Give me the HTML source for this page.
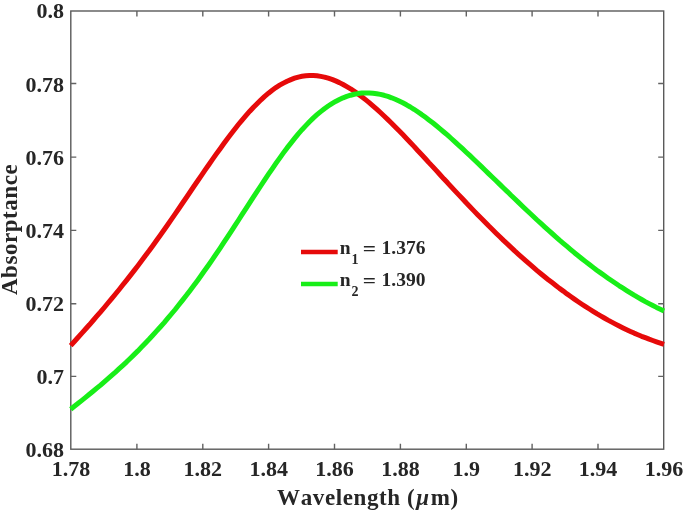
<!DOCTYPE html>
<html><head><meta charset="utf-8"><title>Absorptance vs Wavelength</title>
<style>
html,body{margin:0;padding:0;background:#fff}
svg{display:block}
text{font-family:"Liberation Serif","DejaVu Serif",serif;font-weight:bold;fill:#262626}
.t{font-size:22px}
.l{font-size:23px}
.g{font-size:19.5px}
.s{font-size:14px}
.e{font-family:"Liberation Sans",sans-serif;font-size:20px}
</style></head><body>
<svg width="685" height="511" viewBox="0 0 685 511">
<rect width="685" height="511" fill="#fff"/>
<rect x="70.8" y="11.0" width="592.9000000000001" height="438.2" fill="none" stroke="#5a5a5a" stroke-width="1.4"/>
<path d="M136.9,449.2v-5.5M136.9,11.0v5.5M202.8,449.2v-5.5M202.8,11.0v5.5M268.6,449.2v-5.5M268.6,11.0v5.5M334.5,449.2v-5.5M334.5,11.0v5.5M400.4,449.2v-5.5M400.4,11.0v5.5M466.3,449.2v-5.5M466.3,11.0v5.5M532.1,449.2v-5.5M532.1,11.0v5.5M598.0,449.2v-5.5M598.0,11.0v5.5M70.8,376.4h5.5M663.7,376.4h-5.5M70.8,303.7h5.5M663.7,303.7h-5.5M70.8,230.4h5.5M663.7,230.4h-5.5M70.8,157.1h5.5M663.7,157.1h-5.5M70.8,83.5h5.5M663.7,83.5h-5.5" fill="none" stroke="#626262" stroke-width="1.4"/>
<g fill="none" stroke-width="5.0" stroke-linejoin="round">
<path stroke="#e60a0a" d="M70.7,345.6 L74.4,341.5 L78.2,337.3 L81.9,333.2 L85.6,329.0 L89.4,324.8 L93.1,320.5 L96.8,316.2 L100.6,311.9 L104.3,307.5 L108.0,303.0 L111.7,298.6 L115.5,294.0 L119.2,289.5 L122.9,284.8 L126.7,280.1 L130.4,275.4 L134.1,270.6 L137.9,265.7 L141.6,260.8 L145.3,255.8 L149.1,250.8 L152.8,245.7 L156.5,240.5 L160.3,235.3 L164.0,230.0 L167.7,224.7 L171.4,219.3 L175.2,213.9 L178.9,208.5 L182.6,203.0 L186.4,197.5 L190.1,192.0 L193.8,186.5 L197.6,181.0 L201.3,175.6 L205.0,170.1 L208.8,164.7 L212.5,159.4 L216.2,154.1 L220.0,148.9 L223.7,143.7 L227.4,138.7 L231.2,133.8 L234.9,129.0 L238.6,124.3 L242.3,119.8 L246.1,115.4 L249.8,111.2 L253.5,107.2 L257.3,103.4 L261.0,99.8 L264.7,96.4 L268.5,93.2 L272.2,90.3 L275.9,87.6 L279.7,85.2 L283.4,83.1 L287.1,81.2 L290.9,79.6 L294.6,78.2 L298.3,77.1 L302.0,76.3 L305.8,75.8 L309.5,75.6 L313.2,75.6 L317.0,75.8 L320.7,76.4 L324.4,77.1 L328.2,78.2 L331.9,79.4 L335.6,80.9 L339.4,82.6 L343.1,84.5 L346.8,86.6 L350.6,88.8 L354.3,91.3 L358.0,93.9 L361.8,96.7 L365.5,99.6 L369.2,102.6 L372.9,105.8 L376.7,109.1 L380.4,112.5 L384.1,116.0 L387.9,119.6 L391.6,123.2 L395.3,127.0 L399.1,130.8 L402.8,134.6 L406.5,138.5 L410.3,142.5 L414.0,146.4 L417.7,150.5 L421.5,154.5 L425.2,158.5 L428.9,162.6 L432.7,166.6 L436.4,170.7 L440.1,174.7 L443.8,178.8 L447.6,182.8 L451.3,186.9 L455.0,190.9 L458.8,194.9 L462.5,198.8 L466.2,202.8 L470.0,206.7 L473.7,210.6 L477.4,214.4 L481.2,218.2 L484.9,222.0 L488.6,225.8 L492.4,229.5 L496.1,233.2 L499.8,236.8 L503.5,240.4 L507.3,243.9 L511.0,247.4 L514.7,250.9 L518.5,254.3 L522.2,257.6 L525.9,260.9 L529.7,264.2 L533.4,267.4 L537.1,270.6 L540.9,273.7 L544.6,276.7 L548.3,279.7 L552.1,282.6 L555.8,285.5 L559.5,288.4 L563.3,291.1 L567.0,293.9 L570.7,296.5 L574.4,299.1 L578.2,301.7 L581.9,304.2 L585.6,306.6 L589.4,309.0 L593.1,311.3 L596.8,313.6 L600.6,315.8 L604.3,318.0 L608.0,320.1 L611.8,322.1 L615.5,324.1 L619.2,326.0 L623.0,327.9 L626.7,329.7 L630.4,331.4 L634.1,333.1 L637.9,334.7 L641.6,336.3 L645.3,337.7 L649.1,339.2 L652.8,340.5 L656.5,341.8 L660.3,343.1 L664.0,344.3"/>
<path stroke="#18ee18" d="M70.7,409.2 L74.4,406.3 L78.2,403.3 L81.9,400.4 L85.6,397.4 L89.4,394.3 L93.1,391.3 L96.8,388.2 L100.6,385.1 L104.3,381.9 L108.0,378.7 L111.7,375.4 L115.5,372.1 L119.2,368.7 L122.9,365.3 L126.7,361.8 L130.4,358.2 L134.1,354.6 L137.9,350.9 L141.6,347.1 L145.3,343.2 L149.1,339.3 L152.8,335.3 L156.5,331.2 L160.3,327.0 L164.0,322.8 L167.7,318.4 L171.4,314.0 L175.2,309.5 L178.9,304.8 L182.6,300.1 L186.4,295.3 L190.1,290.4 L193.8,285.5 L197.6,280.4 L201.3,275.2 L205.0,270.0 L208.8,264.7 L212.5,259.3 L216.2,253.8 L220.0,248.3 L223.7,242.7 L227.4,237.1 L231.2,231.4 L234.9,225.7 L238.6,220.0 L242.3,214.2 L246.1,208.4 L249.8,202.7 L253.5,196.9 L257.3,191.2 L261.0,185.5 L264.7,179.8 L268.5,174.2 L272.2,168.8 L275.9,163.4 L279.7,158.1 L283.4,152.9 L287.1,147.9 L290.9,143.1 L294.6,138.4 L298.3,133.9 L302.0,129.7 L305.8,125.6 L309.5,121.7 L313.2,118.1 L317.0,114.7 L320.7,111.6 L324.4,108.7 L328.2,106.0 L331.9,103.6 L335.6,101.4 L339.4,99.5 L343.1,97.8 L346.8,96.4 L350.6,95.2 L354.3,94.3 L358.0,93.6 L361.8,93.1 L365.5,92.9 L369.2,93.0 L372.9,93.2 L376.7,93.7 L380.4,94.4 L384.1,95.3 L387.9,96.4 L391.6,97.8 L395.3,99.3 L399.1,101.0 L402.8,102.8 L406.5,104.8 L410.3,107.0 L414.0,109.3 L417.7,111.8 L421.5,114.4 L425.2,117.1 L428.9,119.9 L432.7,122.8 L436.4,125.8 L440.1,128.9 L443.8,132.0 L447.6,135.2 L451.3,138.5 L455.0,141.9 L458.8,145.3 L462.5,148.7 L466.2,152.2 L470.0,155.7 L473.7,159.2 L477.4,162.8 L481.2,166.4 L484.9,170.0 L488.6,173.6 L492.4,177.2 L496.1,180.8 L499.8,184.4 L503.5,188.0 L507.3,191.6 L511.0,195.3 L514.7,198.8 L518.5,202.4 L522.2,206.0 L525.9,209.5 L529.7,213.0 L533.4,216.5 L537.1,220.0 L540.9,223.4 L544.6,226.8 L548.3,230.2 L552.1,233.5 L555.8,236.8 L559.5,240.1 L563.3,243.3 L567.0,246.4 L570.7,249.6 L574.4,252.7 L578.2,255.7 L581.9,258.7 L585.6,261.6 L589.4,264.5 L593.1,267.4 L596.8,270.2 L600.6,272.9 L604.3,275.6 L608.0,278.2 L611.8,280.8 L615.5,283.3 L619.2,285.8 L623.0,288.2 L626.7,290.6 L630.4,292.9 L634.1,295.2 L637.9,297.4 L641.6,299.5 L645.3,301.6 L649.1,303.6 L652.8,305.5 L656.5,307.4 L660.3,309.2 L664.0,311.0"/>
</g>
<g class="t" text-anchor="middle">
<text x="71.0" y="476">1.78</text>
<text x="136.9" y="476">1.8</text>
<text x="202.8" y="476">1.82</text>
<text x="268.7" y="476">1.84</text>
<text x="334.6" y="476">1.86</text>
<text x="400.4" y="476">1.88</text>
<text x="466.3" y="476">1.9</text>
<text x="532.2" y="476">1.92</text>
<text x="598.1" y="476">1.94</text>
<text x="664.0" y="476">1.96</text>
</g>
<g class="t" text-anchor="end">
<text x="64" y="457.4">0.68</text>
<text x="64" y="384.4">0.7</text>
<text x="64" y="311.4">0.72</text>
<text x="64" y="238.4">0.74</text>
<text x="64" y="165.4">0.76</text>
<text x="64" y="92.4">0.78</text>
<text x="64" y="18.4">0.8</text>
</g>
<text class="l" text-anchor="middle" x="367.9" y="504.5" style="letter-spacing:0.6px;font-kerning:none">Wavelength (<tspan font-style="italic" dx="1">μ</tspan><tspan dx="1">m)</tspan></text>
<text class="l" text-anchor="middle" transform="translate(16.7,229.4) rotate(-90)" style="letter-spacing:0.55px;font-kerning:none">Absorptance</text>
<g fill="none" stroke-width="4.5">
<path stroke="#e60a0a" d="M301,252H337.7"/>
<path stroke="#18ee18" d="M301,283.9H337.7"/>
</g>
<text class="g" y="254.4"><tspan x="339.8">n</tspan><tspan class="s" x="351.5" dy="9.4">1</tspan><tspan x="381.6" dy="-9.4">1.376</tspan></text>
<text class="e" transform="translate(363.1,252.8) scale(1.08,0.62)">=</text>
<text class="e" transform="translate(363.1,284.7) scale(1.08,0.62)">=</text>
<text class="g" y="286.3"><tspan x="339.8">n</tspan><tspan class="s" x="351.5" dy="9.4">2</tspan><tspan x="381.6" dy="-9.4">1.390</tspan></text>
</svg>
</body></html>
